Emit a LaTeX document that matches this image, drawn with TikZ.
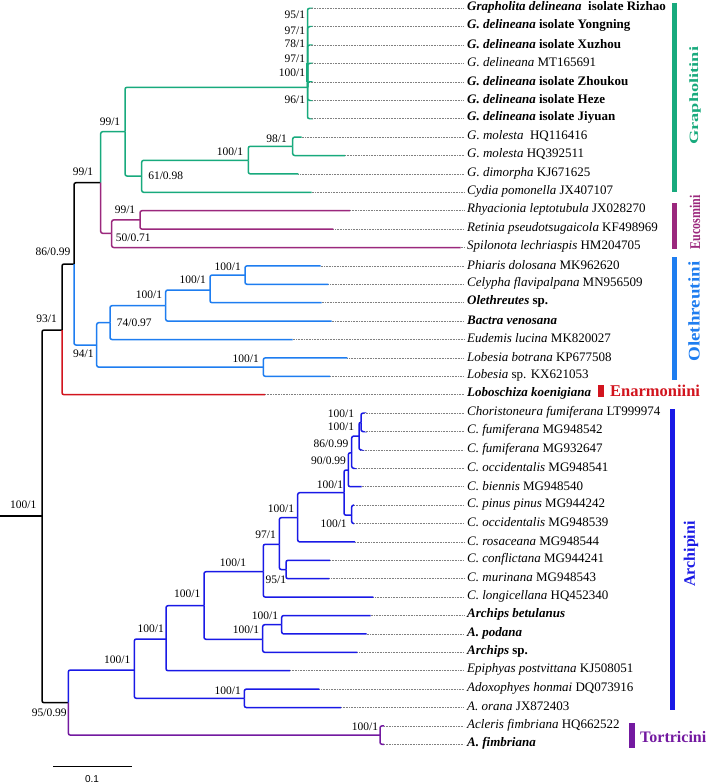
\documentclass[tikz,border=0pt]{standalone}
\usepackage{fontspec}
\setmainfont{Liberation Serif}
\setsansfont{Liberation Sans}
\usepackage{graphicx}
\definecolor{grn}{RGB}{24,170,125}
\definecolor{euc}{RGB}{155,40,125}
\definecolor{ole}{RGB}{30,125,240}
\definecolor{enr}{RGB}{210,20,30}
\definecolor{arc}{RGB}{25,25,230}
\definecolor{tor}{RGB}{115,25,160}
\begin{document}
\begin{tikzpicture}[x=1pt,y=-1pt,
  br/.style={line width=1.5pt,rounded corners=2pt},
  dots/.style={gray,line width=0.5pt,dash pattern=on 0.6pt off 1pt,shorten >=3pt},
  leaf/.style={anchor=west,inner sep=0pt,font=\fontsize{13}{15}\selectfont},
  bs/.style={inner sep=0pt,font=\fontsize{11.5}{13}\selectfont},
  bar/.style={line width=5pt},
  clade/.style={inner sep=0pt,font=\fontsize{13}{15}\selectfont\bfseries}]
\useasboundingbox (0,0) rectangle (709,784);
\fill[white] (0,0) rectangle (709,784);

% tips
\foreach \i/\xe/\txt in {
  0/309/{\bfseries{\itshape Grapholita delineana}\ \ isolate Rizhao},
  1/309/{\bfseries{\itshape G. delineana} isolate Yongning},
  2/309/{\bfseries{\itshape G. delineana} isolate Xuzhou},
  3/309/{\textit{G. delineana} MT165691},
  4/309/{\bfseries{\itshape G. delineana} isolate Zhoukou},
  5/309/{\bfseries{\itshape G. delineana} isolate Heze},
  6/309/{\bfseries{\itshape G. delineana} isolate Jiyuan},
  7/301.7/{\textit{G. molesta}\ \ HQ116416},
  8/345/{\textit{G. molesta} HQ392511},
  9/298.3/{\textit{G. dimorpha} KJ671625},
  10/311.7/{\textit{Cydia pomonella} JX407107},
  11/350/{\textit{Rhyacionia leptotubula} JX028270},
  12/333.3/{\textit{Retinia pseudotsugaicola} KF498969},
  13/460.7/{\textit{Spilonota lechriaspis} HM204705},
  14/320.7/{\textit{Phiaris dolosana} MK962620},
  15/328.3/{\textit{Celypha flavipalpana} MN956509},
  16/321.7/{\bfseries{\itshape Olethreutes} sp.},
  17/331.7/{\bfseries\itshape Bactra venosana},
  18/292.7/{\textit{Eudemis lucina} MK820027},
  19/347.3/{\textit{Lobesia botrana} KP677508},
  20/330/{\textit{Lobesia} sp. KX621053},
  21/265/{\bfseries\itshape Loboschiza koenigiana},
  22/362.5/{\textit{Choristoneura fumiferana} LT999974},
  23/362.5/{\textit{C. fumiferana} MG948542},
  24/360/{\textit{C. fumiferana} MG932647},
  25/353/{\textit{C. occidentalis} MG948541},
  26/361.7/{\textit{C. biennis} MG948540},
  27/354/{\textit{C. pinus pinus} MG944242},
  28/354/{\textit{C. occidentalis} MG948539},
  29/355/{\textit{C. rosaceana} MG948544},
  30/330/{\textit{C. conflictana} MG944241},
  31/329.3/{\textit{C. murinana} MG948543},
  32/373.3/{\textit{C. longicellana} HQ452340},
  33/370.7/{\bfseries\itshape Archips betulanus},
  34/366.7/{\bfseries\itshape A. podana},
  35/357.3/{\bfseries{\itshape Archips} sp.},
  36/290/{\textit{Epiphyas postvittana} KJ508051},
  37/319.3/{\textit{Adoxophyes honmai} DQ073916},
  38/341/{\textit{A. orana} JX872403},
  39/384/{\textit{Acleris fimbriana} HQ662522},
  40/384/{\bfseries\itshape A. fimbriana}}{
  \coordinate (t\i) at (\xe,{8.3+18.4*\i});
  \node[leaf] (l\i) at (467,{7.3+18.4*\i}) {\txt};
  \draw[dots] (t\i) -- (t\i -| l\i.west);
}

% inner nodes
\coordinate (base) at (0,516);
\coordinate (root) at (42,516);
\coordinate (n93) at (62,330);
\coordinate (n86) at (74,264);
\coordinate (n99a) at (100.7,182.7);
\coordinate (nGra) at (125,131.7);
\coordinate (nComb) at (307.5,87.3);
\coordinate (n61) at (141.7,176);
\coordinate (n100g) at (248.3,160.3);
\coordinate (n98) at (292.7,146.3);
\coordinate (nEuc) at (111.7,233.3);
\coordinate (n99e) at (140,219.9);
\coordinate (nOle) at (96.7,345);
\coordinate (n74) at (110,322.7);
\coordinate (n100a) at (165.7,305.7);
\coordinate (n100b) at (210,290);
\coordinate (n100c) at (245,275.1);
\coordinate (n100l) at (263.3,367.1);
\coordinate (n95) at (68.3,702.7);
\coordinate (nTor) at (380,735.1);
\coordinate (nArc) at (134.3,670);
\coordinate (nAdo) at (244.3,698.3);
\coordinate (nA1) at (166,639);
\coordinate (nA2) at (204,605.7);
\coordinate (nArch) at (262.7,639.3);
\coordinate (nArch2) at (281.7,624.7);
\coordinate (nCh) at (263.3,571.7);
\coordinate (n97) at (279.3,544.3);
\coordinate (n95b) at (286,569.5);
\coordinate (n100h) at (297.7,517.7);
\coordinate (n100i) at (344,492.7);
\coordinate (nPin) at (351.7,515.2);
\coordinate (n90) at (348.3,470);
\coordinate (n86b) at (351.7,452.8);
\coordinate (n100j) at (359,436.1);
\coordinate (n100k) at (361,422.3);

% branches
\draw[br] (base) -- (root);
\foreach \a/\b in {root/n93,root/n95,n93/n86,n86/n99a}
  \draw[br] (\a) |- (\b);
\draw[br,enr] (n93) |- (t21);
\foreach \a/\b in {n99a/nGra,nGra/nComb,nGra/n61,n61/n100g,n61/t10,
  n100g/n98,n100g/t9,n98/t7,n98/t8,nComb/t0,nComb/t1,nComb/t2,nComb/t3,
  nComb/t4,nComb/t5,nComb/t6}
  \draw[br,grn] (\a) |- (\b);
\draw[grn,line width=2.4pt] (306.8,63.3) -- (306.8,81.7);
\foreach \a/\b in {n99a/nEuc,nEuc/n99e,nEuc/t13,n99e/t11,n99e/t12}
  \draw[br,euc] (\a) |- (\b);
\foreach \a/\b in {n86/nOle,nOle/n74,nOle/n100l,n100l/t19,n100l/t20,
  n74/n100a,n74/t18,n100a/n100b,n100a/t17,n100b/n100c,n100b/t16,
  n100c/t14,n100c/t15}
  \draw[br,ole] (\a) |- (\b);
\foreach \a/\b in {n95/nTor,nTor/t39,nTor/t40}
  \draw[br,tor] (\a) |- (\b);
\foreach \a/\b in {n95/nArc,nArc/nA1,nArc/nAdo,nAdo/t37,nAdo/t38,
  nA1/nA2,nA1/t36,nA2/nCh,nA2/nArch,nArch/nArch2,nArch/t35,
  nArch2/t33,nArch2/t34,nCh/n97,nCh/t32,n97/n100h,n97/n95b,
  n95b/t30,n95b/t31,n100h/n100i,n100h/t29,n100i/n90,n100i/nPin,
  nPin/t27,nPin/t28,n90/n86b,n90/t26,n86b/n100j,n86b/t25,
  n100j/n100k,n100j/t24,n100k/t22,n100k/t23}
  \draw[br,arc] (\a) |- (\b);

% support values
\foreach \x/\y/\a/\b [count=\k] in {
  294.8/15/95/1, 294.8/30.7/97/1, 294.8/43.3/78/1, 294.8/58.3/97/1,
  291.9/72.7/100/1, 294.8/100/96/1, 110/121.7/99/1, 83/172/99/1,
  165.7/176/61/0.98, 230/151.7/100/1, 276.7/138.3/98/1, 53/252/86/0.99,
  46.7/319/93/1, 125/210/99/1, 133.3/237.7/50/0.71, 227.7/266.7/100/1,
  192.7/280/100/1, 149/295/100/1, 134.3/322.7/74/0.97, 83.3/353.3/94/1,
  245.7/359/100/1, 23.3/505/100/1, 341/413.3/100/1, 341/426.7/100/1,
  331/443.3/86/0.99, 328.5/461/90/0.99, 330/485/100/1, 333.6/524/100/1,
  281/508.3/100/1, 265.7/535/97/1, 233/562.7/100/1, 275.8/579.3/95/1,
  265/616/100/1, 246/629.3/100/1, 187.3/593.3/100/1, 150.7/628.3/100/1,
  117.3/660/100/1, 227.7/690.7/100/1, 49.3/712.7/95/0.99, 365/726.7/100/1}
  \node[bs] (b\k) at (\x,\y) {\a/\b};

% tribes
\draw[bar,grn] (674,3) -- (674,191.7);
\node[clade,grn,rotate=90] (cGra) at (695,95.8) {\resizebox*{98pt}{11.5pt}{Grapholitini}};
\draw[bar,euc] (674,203.3) -- (674,249.3);
\node[clade,euc,rotate=90] (cEuc) at (695,222.5) {\resizebox*{54pt}{10.5pt}{Eucosmini}};
\draw[bar,ole] (674,257.3) -- (674,380);
\node[clade,ole,rotate=90] (cOle) at (694,311.7) {\resizebox*{100pt}{11.5pt}{Olethreutini}};
\draw[enr,line width=6pt] (601,385) -- (601,397);
\node[clade,enr,anchor=west,font=\fontsize{16.5}{18}\selectfont\bfseries] (cEnr) at (610,391) {Enarmoniini};
\draw[bar,arc] (672.5,409.3) -- (672.5,710);
\node[clade,arc,rotate=90,font=\fontsize{16}{18}\selectfont\bfseries] (cArc) at (691,554) {Archipini};
\draw[tor,line width=6pt] (632,723.3) -- (632,748.3);
\node[clade,tor,anchor=west,font=\fontsize{16}{18}\selectfont\bfseries] (cTor) at (640,736.7) {Tortricini};

% scale
\coordinate (s0) at (53.3,766);
\coordinate (s1) at (131.7,766);
\draw[line width=1pt] (s0) -- (s1);
\node[font=\sffamily\fontsize{10}{11}\selectfont] (sc) at (92,779) {0.1};
\end{tikzpicture}
\end{document}
